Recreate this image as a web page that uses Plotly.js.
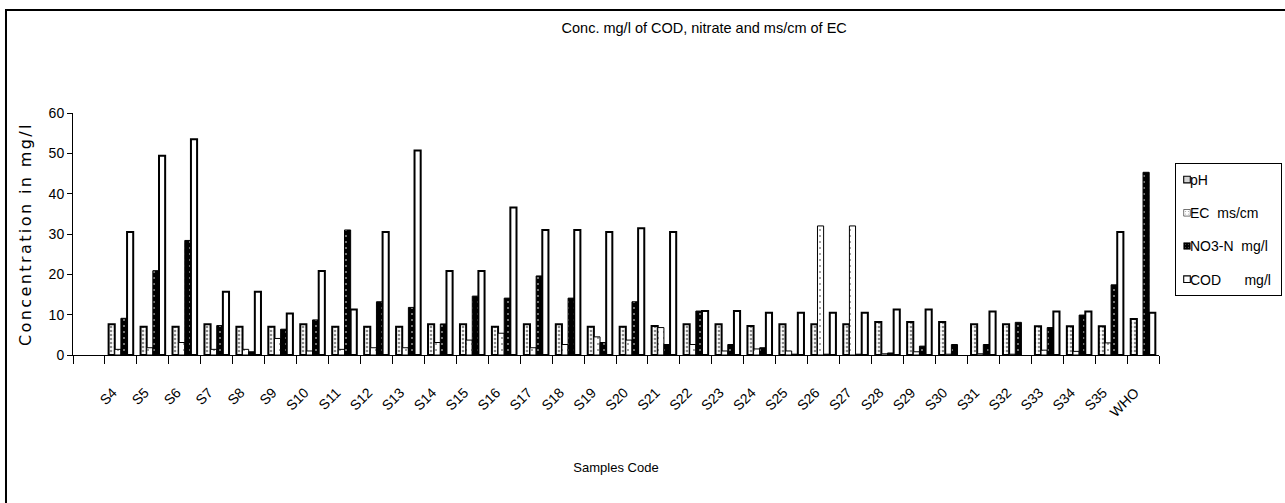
<!DOCTYPE html>
<html>
<head>
<meta charset="utf-8">
<script src="https://cdn.plot.ly/plotly-3.0.1.min.js"></script>
<style>
  html, body { margin: 0; padding: 0; background: #fff; }
  #chart { width: 1285px; height: 503px; }
  #chart .ytitle { letter-spacing: 2.4px; }
</style>
</head>
<body>
<div id="chart"></div>
<script>
// Categories (first slot is an empty category on the original axis)
const categories = [" ", "S4", "S5", "S6", "S7", "S8", "S9", "S10", "S11", "S12", "S13",
  "S14", "S15", "S16", "S17", "S18", "S19", "S20", "S21", "S22", "S23", "S24", "S25",
  "S26", "S27", "S28", "S29", "S30", "S31", "S32", "S33", "S34", "S35", "WHO"];

const pH = [null, 7.6, 7.0, 7.0, 7.6, 7.0, 7.0, 7.6, 7.0, 7.0, 7.0,
  7.6, 7.6, 7.0, 7.6, 7.6, 7.0, 7.0, 7.2, 7.6, 7.6, 7.2, 7.6,
  7.6, 7.6, 8.2, 8.2, 8.2, 7.6, 7.6, 7.1, 7.1, 7.1, 8.9];

const EC = [null, 1.4, 1.8, 3.1, 1.4, 1.4, 4.1, 1.0, 1.4, 1.8, 1.8,
  3.1, 3.7, 5.4, 1.8, 2.6, 4.5, 3.7, 6.8, 2.6, 1.0, 1.5, 1.0,
  32.0, 32.0, 0.3, 0.8, 0.2, 0.3, 0.2, 1.2, 0.9, 3.0, null];

const NO3 = [null, 9.1, 20.9, 28.4, 7.3, 0.8, 6.4, 8.7, 31.0, 13.2, 11.8,
  7.7, 14.6, 14.1, 19.6, 14.1, 3.1, 13.2, 2.6, 10.9, 2.6, 1.8, 0.2,
  0.2, 0.2, 0.5, 2.2, 2.6, 2.6, 8.1, 6.8, 9.9, 17.4, 45.3];

const COD = [null, 30.5, 49.4, 53.5, 15.7, 15.7, 10.3, 20.8, 11.3, 30.5, 50.7,
  20.8, 20.8, 36.6, 31.0, 31.0, 30.5, 31.4, 30.5, 10.9, 10.9, 10.5, 10.5,
  10.5, 10.5, 11.3, 11.3, null, 10.8, null, 10.8, 10.8, 30.5, 10.5];

const NB = "\u00A0";
const seriesNames = ["pH", "EC" + NB + NB + "ms/cm", "NO3-N" + NB + NB + "mg/l",
  "COD" + NB.repeat(6) + "mg/l"];

const FONT = "Liberation Sans, Arial, Helvetica, sans-serif";

const traces = [
  {
    type: "bar", name: seriesNames[0], x: categories, y: pH, legendgroup: "a",
    marker: { color: "white", line: { color: "black", width: 2 },
      pattern: { shape: ".", fgcolor: "#8a8a8a", bgcolor: "white", size: 4, solidity: 0.35 } }
  },
  {
    type: "bar", name: seriesNames[1], x: categories, y: EC, legendgroup: "b",
    marker: { color: "white", line: { color: "black", width: 1 },
      pattern: { shape: ".", fgcolor: "#333", bgcolor: "white", size: 6, solidity: 0.06 } }
  },
  {
    type: "bar", name: seriesNames[2], x: categories, y: NO3, legendgroup: "c",
    marker: { color: "black", line: { color: "black", width: 1 },
      pattern: { shape: ".", fgcolor: "white", bgcolor: "black", size: 6, solidity: 0.06 } }
  },
  {
    type: "bar", name: seriesNames[3], x: categories, y: COD, legendgroup: "d",
    marker: { color: "white", line: { color: "black", width: 2 } }
  }
];

const layout = {
  width: 1285, height: 503,
  margin: { l: 73, r: 126, t: 113, b: 148, pad: 0, autoexpand: false },
  paper_bgcolor: "white", plot_bgcolor: "white",
  barmode: "group", bargap: 0.23, bargroupgap: 0,
  font: { family: FONT, size: 13, color: "black" },
  showlegend: true,
  title: {
    text: "Conc. mg/l of COD, nitrate and ms/cm of EC",
    font: { family: FONT, size: 14.5, color: "black" },
    x: 0.548, xref: "container", xanchor: "center",
    y: 0.944, yref: "container", yanchor: "middle"
  },
  xaxis: {
    type: "category", categoryorder: "array", categoryarray: categories,
    tickson: "boundaries", ticks: "outside", ticklen: 8, tickcolor: "black", tickwidth: 1,
    showline: true, linecolor: "black", linewidth: 1,
    showgrid: false, zeroline: false,
    tickangle: -45, ticklabelstandoff: 23, ticklabelshift: -8,
    tickfont: { family: FONT, size: 14, color: "black" },
    automargin: false,
    title: { text: "Samples Code", font: { family: FONT, size: 13, color: "black" }, standoff: 43 }
  },
  yaxis: {
    range: [0, 60], dtick: 10, tick0: 0,
    ticks: "outside", ticklen: 5, tickcolor: "black", tickwidth: 1,
    showline: true, linecolor: "black", linewidth: 1,
    showgrid: false, zeroline: false,
    tickfont: { family: FONT, size: 14, color: "black" },
    automargin: false,
    title: { text: "Concentration in mg/l", font: { family: "DejaVu Sans, Verdana, sans-serif", size: 16, color: "black" } }
  },
  legend: {
    x: (1175 - 73) / 1086, xanchor: "left", y: (355 - 163) / 242, yanchor: "top",
    bordercolor: "black", borderwidth: 1, bgcolor: "white",
    font: { family: FONT, size: 14, color: "black" },
    itemwidth: 30, tracegroupgap: 12, traceorder: "grouped"
  },
  shapes: [
    { type: "rect", xref: "paper", yref: "paper",
      x0: -0.0617, x1: 1.25, y0: -0.9, y1: 1.4256,
      line: { color: "black", width: 2 }, fillcolor: "rgba(0,0,0,0)", layer: "below" }
  ]
};

function tidyLegend(gd) {
  // Compact legend entries: small swatch at the left, label right after it
  const leg = gd.querySelector(".legend");
  if (!leg) return;
  leg.querySelectorAll(".traces").forEach(function (t) {
    const txt = t.querySelector(".legendtext");
    if (txt) txt.setAttribute("x", 14);
    const pts = t.querySelector(".legendpoints");
    if (pts) pts.setAttribute("transform", "scale(0.55)");
  });
  const bg = leg.querySelector("rect.bg");
  if (bg) bg.setAttribute("width", 106);
}

const gd = document.getElementById("chart");
Plotly.newPlot(gd, traces, layout, { displayModeBar: false, staticPlot: true })
  .then(function () { tidyLegend(gd); });
</script>
</body>
</html>
